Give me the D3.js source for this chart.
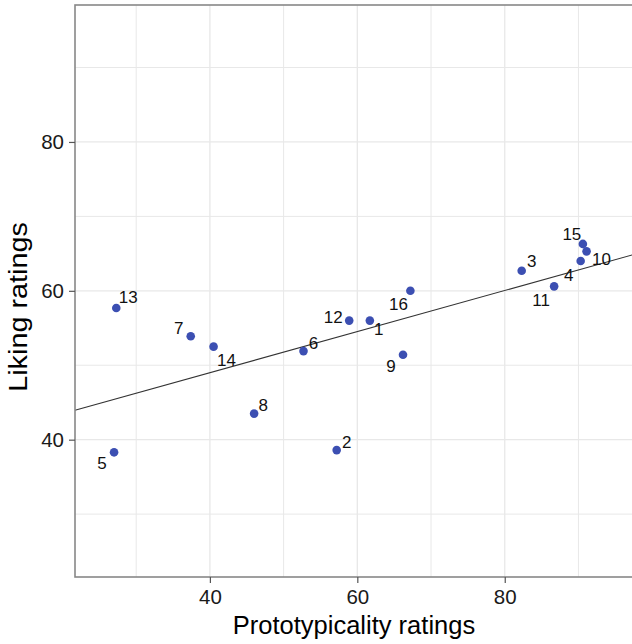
<!DOCTYPE html>
<html>
<head>
<meta charset="utf-8">
<script src="https://cdn.jsdelivr.net/npm/d3@7"></script>
<style>
  html, body { margin: 0; padding: 0; background: #fff; }
  svg { display: block; font-family: "Liberation Sans", Arial, sans-serif; }
</style>
</head>
<body>
<svg id="chart" width="632" height="644"></svg>
<script>
// Stimulus ratings: prototypicality (x) vs. liking (y), one point per item
const ids = [1, 2, 3, 4, 5, 6, 7, 8, 9, 10, 11, 12, 13, 14, 15, 16];
const prototypicality = [61.7, 57.2, 82.3, 90.3, 27.0, 52.7, 37.4, 46.0, 66.2, 91.1, 86.7, 58.9, 27.3, 40.5, 90.6, 67.2];
const liking = [56.0, 38.6, 62.7, 64.0, 38.3, 51.9, 53.9, 43.5, 51.4, 65.3, 60.6, 56.0, 57.7, 52.5, 66.3, 60.0];

const xMajorTicks = [40, 60, 80];
const xMinorTicks = [30, 50, 70, 90];
const yMajorTicks = [40, 60, 80];
const yMinorTicks = [30, 50, 70, 90];

// Label nudges (px) so the item numbers sit clear of the points
const labelNudge = {
  1: [9, 9], 2: [10, -8], 3: [10, -9], 4: [-12, 14], 5: [-12, 11], 6: [10, -8],
  7: [-12, -8], 8: [9, -8], 9: [-12, 12], 10: [15, 8], 11: [-13, 14], 12: [-16, -3],
  13: [12, -10], 14: [13, 14], 15: [-11, -9], 16: [-12, 14]
};

const points = ids.map((id, i) => ({ id, x: prototypicality[i], y: liking[i] }));

const panel = { left: 75, right: 633, top: 5, bottom: 577 };

const x = d3.scaleLinear().domain([21.7, 97.4]).range([panel.left, panel.right]);
const y = d3.scaleLinear().domain([21.55, 98.4]).range([panel.bottom, panel.top]);

const svg = d3.select("#chart");

// Ordinary least squares fit of liking on prototypicality
const mx = d3.mean(points, d => d.x);
const my = d3.mean(points, d => d.y);
const slope = d3.sum(points, d => (d.x - mx) * (d.y - my)) / d3.sum(points, d => (d.x - mx) ** 2);
const intercept = my - slope * mx;

const plot = svg.append("g");

// Grid lines
const gridColor = "#e8e8e8";
plot.selectAll("line.vgrid")
  .data(xMinorTicks.concat(xMajorTicks))
  .join("line")
  .attr("x1", d => x(d)).attr("x2", d => x(d))
  .attr("y1", panel.top).attr("y2", panel.bottom)
  .attr("stroke", gridColor).attr("stroke-width", d => xMajorTicks.includes(d) ? 1.3 : 1);
plot.selectAll("line.hgrid")
  .data(yMinorTicks.concat(yMajorTicks))
  .join("line")
  .attr("x1", panel.left).attr("x2", panel.right)
  .attr("y1", d => y(d)).attr("y2", d => y(d))
  .attr("stroke", gridColor).attr("stroke-width", d => yMajorTicks.includes(d) ? 1.3 : 1);

// Regression line across the whole panel
const [x0, x1] = x.domain();
plot.append("line")
  .attr("x1", x(x0)).attr("y1", y(intercept + slope * x0))
  .attr("x2", x(x1)).attr("y2", y(intercept + slope * x1))
  .attr("stroke", "#333").attr("stroke-width", 1.1);

// Points
plot.selectAll("circle.pt")
  .data(points)
  .join("circle")
  .attr("cx", d => x(d.x)).attr("cy", d => y(d.y))
  .attr("r", 4.3)
  .attr("fill", "#3c4fb2");

// Item labels
plot.selectAll("text.lbl")
  .data(points)
  .join("text")
  .attr("x", d => x(d.x) + labelNudge[d.id][0])
  .attr("y", d => y(d.y) + labelNudge[d.id][1])
  .attr("text-anchor", "middle")
  .attr("dominant-baseline", "central")
  .attr("font-size", 17)
  .attr("fill", "#111")
  .text(d => d.id);

// Panel border
svg.append("rect")
  .attr("x", panel.left).attr("y", panel.top)
  .attr("width", panel.right - panel.left).attr("height", panel.bottom - panel.top)
  .attr("fill", "none").attr("stroke", "#888").attr("stroke-width", 1.6);

// Axes
const xAxis = d3.axisBottom(x).tickValues(xMajorTicks).tickSize(6).tickPadding(6);
const yAxis = d3.axisLeft(y).tickValues(yMajorTicks).tickSize(6).tickPadding(5);

const gx = svg.append("g").attr("transform", `translate(0,${panel.bottom})`).call(xAxis);
const gy = svg.append("g").attr("transform", `translate(${panel.left},0)`).call(yAxis);
[gx, gy].forEach(g => {
  g.select(".domain").remove();
  g.selectAll(".tick line").attr("stroke", "#555").attr("stroke-width", 1.2);
  g.selectAll(".tick text").attr("font-size", 20.5).attr("fill", "#1a1a1a")
    .attr("font-family", "'Liberation Sans', Arial, sans-serif");
});

// Axis titles
svg.append("text")
  .attr("x", (panel.left + panel.right) / 2).attr("y", 634)
  .attr("text-anchor", "middle").attr("font-size", 25.5).attr("fill", "#000")
  .text("Prototypicality ratings");

svg.append("text")
  .attr("transform", `translate(27,${(panel.top + panel.bottom) / 2 + 16}) rotate(-90) scale(1.13,1)`)
  .attr("text-anchor", "middle").attr("font-size", 25.5).attr("fill", "#000")
  .text("Liking ratings");
</script>
</body>
</html>
